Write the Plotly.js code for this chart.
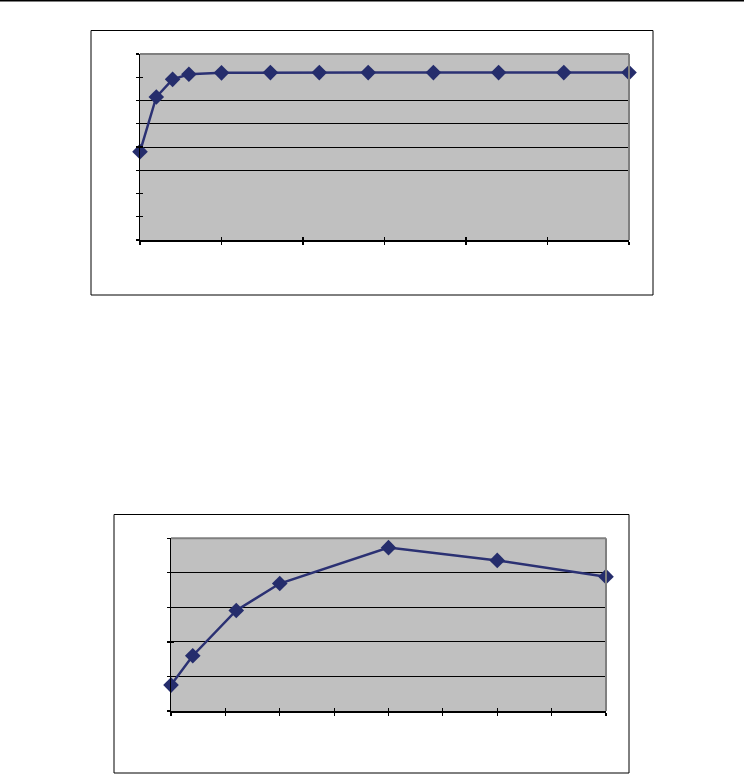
<!DOCTYPE html>
<html>
<head>
<meta charset="utf-8">
<script src="https://cdn.plot.ly/plotly-3.0.1.min.js"></script>
<style>html,body{margin:0;padding:0;background:#fff;}#chart{width:744px;height:774px;}</style>
</head>
<body>
<div id="chart"></div>
<script>
// Top chart data
const topX = [0, 100, 200, 300, 500, 800, 1100, 1400, 1800, 2200, 2600, 3000];
const topY = [3.8, 6.15, 6.91, 7.13, 7.19, 7.2, 7.2, 7.2, 7.2, 7.2, 7.2, 7.2];
const topGridLevels = [3, 4, 5, 6];
// Bottom chart data
const botX = [0, 2, 6, 10, 20, 30, 40];
const botY = [0.75, 1.6, 2.91, 3.69, 4.73, 4.36, 3.89];
const botGridLevels = [1, 2, 3, 4];

const W = 744, H = 774;
const px = v => v / W;
const py = v => 1 - v / H;

const lineColor = '#2b3173';
const markerColor = '#252d6c';

const traces = [
  {x: topX, y: topY, xaxis: 'x', yaxis: 'y', mode: 'lines+markers', type: 'scatter',
   line: {color: lineColor, width: 2.5}, marker: {symbol: 'diamond', size: 12, color: markerColor}, cliponaxis: false},
  {x: botX, y: botY, xaxis: 'x2', yaxis: 'y2', mode: 'lines+markers', type: 'scatter',
   line: {color: lineColor, width: 2.5}, marker: {symbol: 'diamond', size: 12, color: markerColor}, cliponaxis: false},
  // empty helpers so overlay axes are drawn
  {x: [], y: [], xaxis: 'x3', yaxis: 'y3', type: 'scatter'},
  {x: [], y: [], xaxis: 'x4', yaxis: 'y4', type: 'scatter'},
  {x: [], y: [], xaxis: 'x', yaxis: 'y5', type: 'scatter'},
  {x: [], y: [], xaxis: 'x2', yaxis: 'y6', type: 'scatter'}
];

const topXd = [px(140), px(629)], topYd = [py(240), py(54)];
const botXd = [px(171), px(606)], botYd = [py(711), py(538.3)];

const mainAx = {showline: true, linecolor: '#000', linewidth: 1.5, ticks: 'outside', ticklen: 3,
  tickcolor: '#000', tickwidth: 1.2, showticklabels: false, showgrid: false, zeroline: false, fixedrange: true};
const innerAx = {showline: false, ticks: 'inside', ticklen: 3, tickcolor: '#000', tickwidth: 1.2,
  showticklabels: false, showgrid: false, zeroline: false, fixedrange: true};
const gridAx = {showline: false, ticks: '', showticklabels: false, showgrid: true, gridcolor: '#000',
  gridwidth: 1, zeroline: false, fixedrange: true, tickmode: 'array'};

const layout = {
  width: W, height: H,
  margin: {l: 0, r: 0, t: 0, b: 0},
  paper_bgcolor: '#fff', plot_bgcolor: '#c0c0c0',
  showlegend: false,
  xaxis: Object.assign({}, mainAx, {domain: topXd, anchor: 'y', range: [0, 3000], dtick: 500, tick0: 0}),
  yaxis: Object.assign({}, mainAx, {domain: topYd, anchor: 'x', range: [0, 8], dtick: 1, tick0: 0}),
  xaxis2: Object.assign({}, mainAx, {domain: botXd, anchor: 'y2', range: [0, 40], dtick: 5, tick0: 0}),
  yaxis2: Object.assign({}, mainAx, {domain: botYd, anchor: 'x2', range: [0, 5], dtick: 1, tick0: 0}),
  xaxis3: Object.assign({}, innerAx, {overlaying: 'x', anchor: 'y3', range: [0, 3000], dtick: 500, tick0: 0}),
  yaxis3: Object.assign({}, innerAx, {overlaying: 'y', anchor: 'x3', range: [0, 8], dtick: 1, tick0: 0}),
  xaxis4: Object.assign({}, innerAx, {overlaying: 'x2', anchor: 'y4', range: [0, 40], dtick: 5, tick0: 0}),
  yaxis4: Object.assign({}, innerAx, {overlaying: 'y2', anchor: 'x4', range: [0, 5], dtick: 1, tick0: 0}),
  yaxis5: Object.assign({}, gridAx, {overlaying: 'y', anchor: 'x', range: [0, 8], tickvals: topGridLevels}),
  yaxis6: Object.assign({}, gridAx, {overlaying: 'y2', anchor: 'x2', range: [0, 5], tickvals: botGridLevels}),
  shapes: [
    // page header rule
    {type: 'line', xref: 'paper', yref: 'paper', x0: 0, x1: 1, y0: py(0.8), y1: py(0.8), line: {color: '#000', width: 1.5}},
    // chart frames
    {type: 'rect', xref: 'paper', yref: 'paper', x0: px(91), x1: px(653), y0: py(295), y1: py(30.5), line: {color: '#000', width: 1}},
    {type: 'rect', xref: 'paper', yref: 'paper', x0: px(114), x1: px(629), y0: py(773), y1: py(514.5), line: {color: '#000', width: 1}},
    // plot area gray border (top and right)
    {type: 'line', xref: 'x domain', yref: 'y domain', x0: 0, x1: 1, y0: 1, y1: 1, line: {color: '#808080', width: 2}},
    {type: 'line', xref: 'x domain', yref: 'y domain', x0: 1, x1: 1, y0: 0, y1: 1, line: {color: '#808080', width: 2}},
    {type: 'line', xref: 'x2 domain', yref: 'y2 domain', x0: 0, x1: 1, y0: 1, y1: 1, line: {color: '#808080', width: 2}},
    {type: 'line', xref: 'x2 domain', yref: 'y2 domain', x0: 1, x1: 1, y0: 0, y1: 1, line: {color: '#808080', width: 2}}
  ]
};

Plotly.newPlot('chart', traces, layout, {staticPlot: true, displayModeBar: false});
</script>
</body>
</html>
